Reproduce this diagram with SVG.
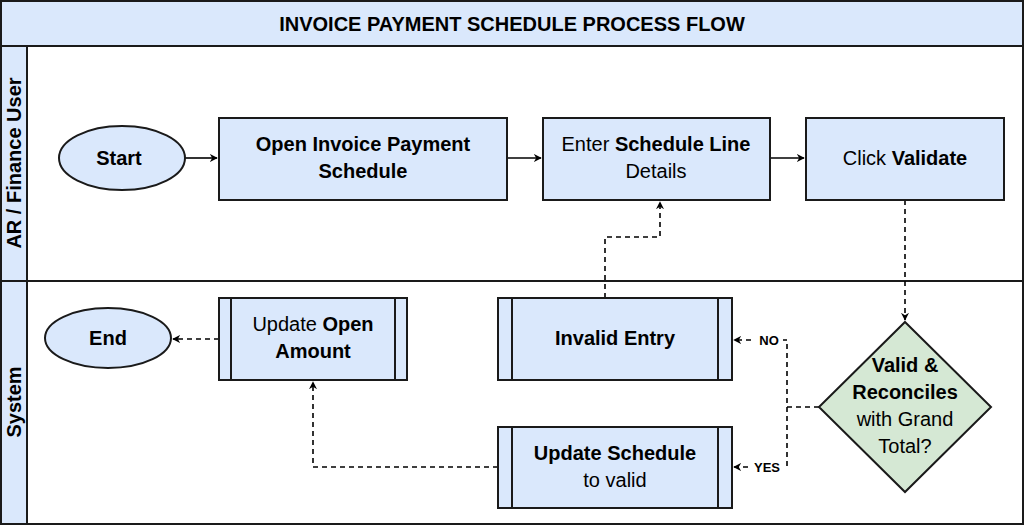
<svg xmlns="http://www.w3.org/2000/svg" width="1024" height="526" viewBox="0 0 1024 526">
<defs>
<style>
text{font-family:"Liberation Sans",Arial,sans-serif;fill:#000}
.box{fill:#dae8fc;stroke:#1a1a1a;stroke-width:2}
.ln{fill:none;stroke:#1a1a1a;stroke-width:2}
.c{fill:none;stroke:#000;stroke-width:1.6}
.d{stroke-dasharray:5 4}
.t{font-size:20px;text-anchor:middle}
.b{font-weight:bold}
.lbl{font-size:13px;font-weight:bold;text-anchor:middle}
</style>
<marker id="a" viewBox="0 0 10 10" refX="9" refY="5" markerWidth="8" markerHeight="8" orient="auto" markerUnits="userSpaceOnUse"><path d="M0,0 L10,5 L0,10 L3,5 Z" fill="#000"/></marker>
</defs>
<rect width="1024" height="526" fill="#fff"/>
<g id="pool">
<rect x="1" y="1" width="1022" height="523" class="ln" fill="#fff"/>
<rect x="1" y="1" width="1022" height="45" class="box"/>
<text x="512" y="31" class="t b" font-size="24">INVOICE PAYMENT SCHEDULE PROCESS FLOW</text>
<rect x="1" y="46" width="26" height="235" class="box"/>
<rect x="27" y="46" width="996" height="235" class="ln"/>
<text transform="translate(21,163) rotate(-90)" class="t b">AR / Finance User</text>
<rect x="1" y="281" width="26" height="243" class="box"/>
<rect x="27" y="281" width="996" height="243" class="ln"/>
<text transform="translate(21,402) rotate(-90)" class="t b">System</text>
</g>
<g id="connectors">
<path class="c" d="M185,158 H217" marker-end="url(#a)"/>
<path class="c" d="M507,158 H541" marker-end="url(#a)"/>
<path class="c" d="M770,158 H804" marker-end="url(#a)"/>
<path class="c d" d="M905,200 V320" marker-end="url(#a)"/>
<path class="c d" d="M819,407 H787 V340 H734" marker-end="url(#a)"/>
<path class="c d" d="M787,407 V467 H734" marker-end="url(#a)"/>
<path class="c d" d="M605,298 V237 H660 V202" marker-end="url(#a)"/>
<path class="c d" d="M498,467 H313 V382" marker-end="url(#a)"/>
<path class="c d" d="M219,339 H173" marker-end="url(#a)"/>
<rect x="755" y="332" width="28" height="16" fill="#fff"/>
<text x="769" y="345" class="lbl">NO</text>
<rect x="750" y="459" width="34" height="16" fill="#fff"/>
<text x="767" y="472" class="lbl">YES</text>
</g>
<g id="start"><ellipse cx="122" cy="158" rx="63" ry="32" class="box"/><text x="119" y="165" class="t b">Start</text></g>
<g id="open"><rect x="219" y="118" width="288" height="82" class="box"/><text x="363" y="151" class="t b">Open Invoice Payment</text><text x="363" y="178" class="t b">Schedule</text></g>
<g id="enter"><rect x="543" y="118" width="227" height="82" class="box"/><text x="656" y="151" class="t">Enter <tspan class="b">Schedule Line</tspan></text><text x="656" y="178" class="t">Details</text></g>
<g id="click"><rect x="806" y="118" width="198" height="82" class="box"/><text x="905" y="165" class="t">Click <tspan class="b">Validate</tspan></text></g>
<g id="decision"><path d="M905,322 L991,407 L905,492 L819,407 Z" fill="#d5e8d4" stroke="#1a1a1a" stroke-width="2"/>
<text x="905" y="372" class="t b">Valid &amp;</text><text x="905" y="399" class="t b">Reconciles</text><text x="905" y="426" class="t">with Grand</text><text x="905" y="453" class="t">Total?</text></g>
<g id="invalid"><rect x="498" y="298" width="234" height="82" class="box"/><path class="ln" d="M512,298 V380 M718,298 V380"/><text x="615" y="345" class="t b">Invalid Entry</text></g>
<g id="updsched"><rect x="498" y="427" width="234" height="81" class="box"/><path class="ln" d="M512,427 V508 M718,427 V508"/><text x="615" y="460" class="t b">Update Schedule</text><text x="615" y="487" class="t">to valid</text></g>
<g id="updopen"><rect x="219" y="298" width="188" height="82" class="box"/><path class="ln" d="M231,298 V380 M395,298 V380"/><text x="313" y="331" class="t">Update <tspan class="b">Open</tspan></text><text x="313" y="358" class="t b">Amount</text></g>
<g id="end"><ellipse cx="108" cy="338" rx="63" ry="30" class="box"/><text x="108" y="345" class="t b">End</text></g>
</svg>
